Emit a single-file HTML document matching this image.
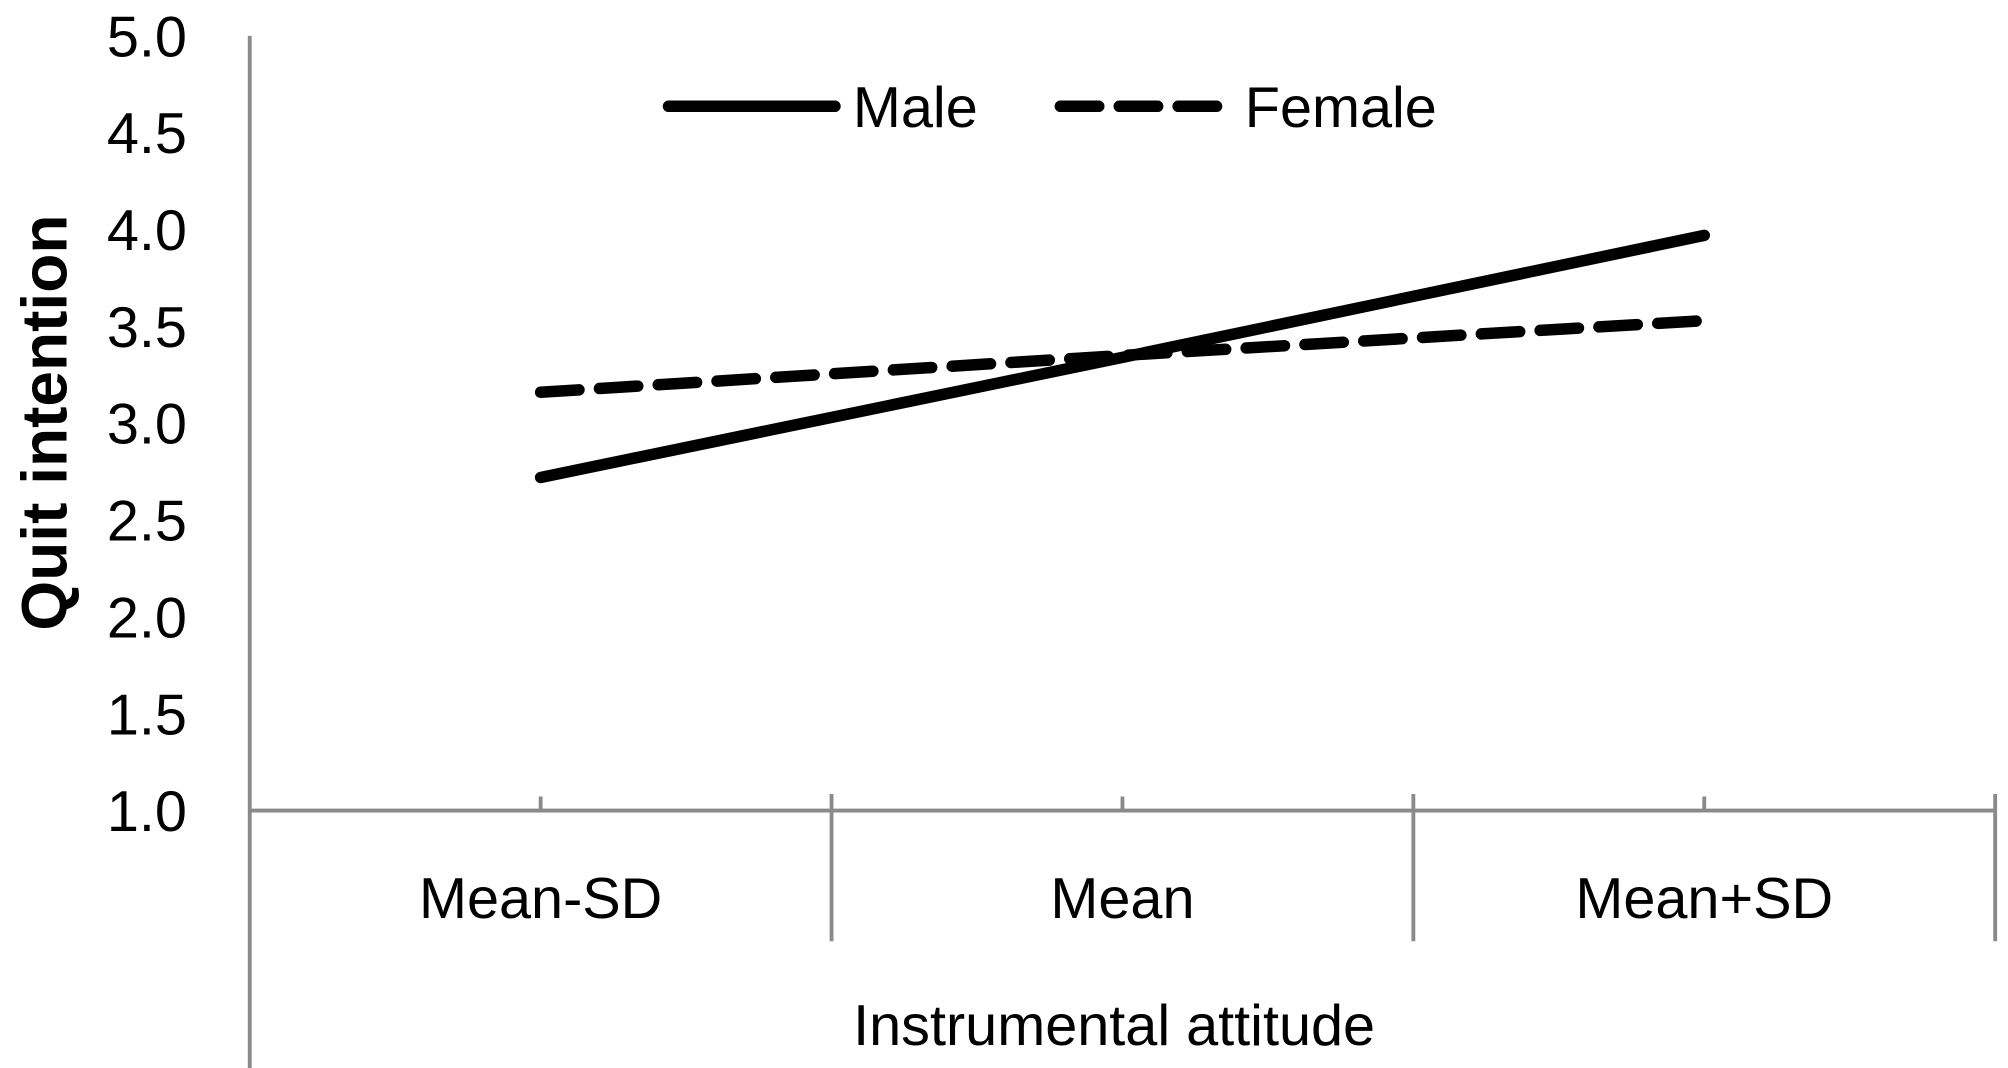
<!DOCTYPE html>
<html><head><meta charset="utf-8">
<style>
html,body{margin:0;padding:0;background:#fff;}
svg{display:block;}
text{font-family:"Liberation Sans",sans-serif;fill:#000;}
</style></head>
<body>
<svg id="chart" width="2008" height="1068" viewBox="0 0 1568 834" xmlns="http://www.w3.org/2000/svg"></svg>
<script>
const categories = ["Mean-SD", "Mean", "Mean+SD"];
const maleValues = [2.72, 3.34, 3.97];
const femaleValues = [3.16, 3.35, 3.53];
const yTicks = ["1.0","1.5","2.0","2.5","3.0","3.5","4.0","4.5","5.0"];

const NS = "http://www.w3.org/2000/svg";
const svg = document.getElementById("chart");
const x0 = 195, x1 = 1558, yBase = 633, yTop = 28, yMin = 1, yMax = 5;
const band = (x1 - x0) / categories.length;
function xScale(i){ return x0 + band * (i + 0.5); }
function yScale(v){ return yBase - (v - yMin) / (yMax - yMin) * (yBase - yTop); }
function mk(tag, attrs, parent){
  const e = document.createElementNS(NS, tag);
  for (const k in attrs) e.setAttribute(k, attrs[k]);
  (parent || svg).appendChild(e);
  return e;
}

const yAxis = mk("line", {x1:x0, y1:yTop, x2:x0, y2:834, stroke:"#8a8a8a", "stroke-width":3});


yTicks.forEach(t => {
  const tx = mk("text", {x:146, y:yScale(parseFloat(t)) + 16, "font-size":45, "text-anchor":"end"});
  tx.textContent = t;
  
  
});
const xAxis = mk("line", {x1:x0, y1:yBase, x2:x1, y2:yBase, stroke:"#8a8a8a", "stroke-width":3});


categories.forEach((c, i) => {
  const tk = mk("line", {x1:xScale(i), y1:622, x2:xScale(i), y2:yBase, stroke:"#8a8a8a", "stroke-width":3});
  
  
  const sep = mk("line", {x1:x0 + band*(i+1), y1:620, x2:x0 + band*(i+1), y2:735, stroke:"#8a8a8a", "stroke-width":3});
  
  
  const tx = mk("text", {x:xScale(i), y:717, "font-size":45, "text-anchor":"middle"});
  tx.textContent = c;
  
  
});
const xt = mk("text", {x:870, y:816, "font-size":45, "text-anchor":"middle"});
xt.textContent = "Instrumental attitude";


const yt = mk("text", {x:0, y:0, "font-size":50, "font-weight":"bold", "text-anchor":"middle", transform:"translate(52,330) rotate(-90)"});
yt.textContent = "Quit intention";



function series(vals, dash, name){
  const pts = vals.map((v,i) => xScale(i) + "," + yScale(v)).join(" ");
  const attrs = {points:pts, fill:"none", stroke:"#000", "stroke-width":9, "stroke-linecap":"round", "stroke-linejoin":"round"};
  if (dash) attrs["stroke-dasharray"] = dash;
  const p = mk("polyline", attrs);
  
  
}
series(maleValues, null, "male-line");
series(femaleValues, "30 16", "female-line");

const l1 = mk("line", {x1:522, y1:83, x2:652, y2:83, stroke:"#000", "stroke-width":9, "stroke-linecap":"round"});


const lt1 = mk("text", {x:666, y:99, "font-size":45});
lt1.textContent = "Male";


const l2 = mk("line", {x1:828, y1:83, x2:958, y2:83, stroke:"#000", "stroke-width":9, "stroke-linecap":"round", "stroke-dasharray":"30 16"});


const lt2 = mk("text", {x:972, y:99, "font-size":45});
lt2.textContent = "Female";


</script>
</body></html>
